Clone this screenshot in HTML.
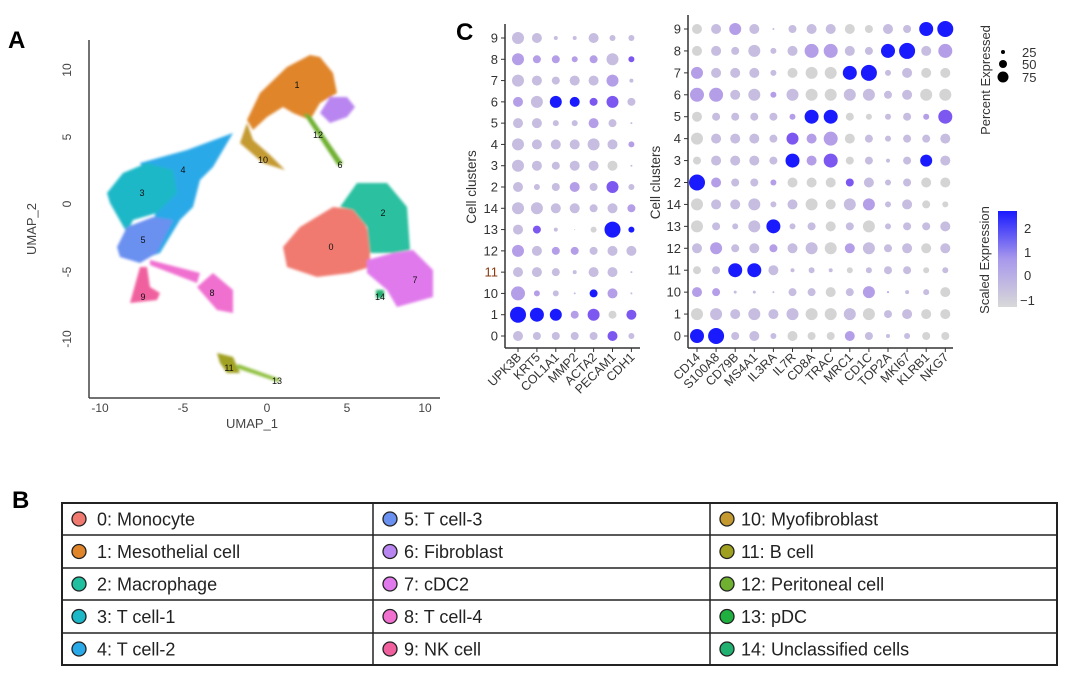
<!DOCTYPE html>
<html><head><meta charset="utf-8"><style>
body{margin:0;background:#fff;width:1080px;height:693px;overflow:hidden;font-family:"Liberation Sans",sans-serif}
svg{display:block}
text{font-family:"Liberation Sans",sans-serif}
</style></head><body>
<svg id="fig" width="1080" height="693" viewBox="0 0 1080 693">
<defs><filter id="rough"><feGaussianBlur stdDeviation="1.2"/></filter></defs>
<text x="8" y="48" font-size="24" font-weight="bold">A</text>
<text x="456" y="40" font-size="24" font-weight="bold">C</text>
<text x="12" y="508" font-size="24" font-weight="bold">B</text>
<g id="umap">
 <g filter="url(#rough)">
  <polygon fill="#e0852a" points="247,120 260,93 287,67 310,55 320,57 333,73 337,93 320,103 310,120 293,113 283,107 267,117 253,130"/>
  <polygon fill="#b985f0" points="330,97 347,97 355,107 347,117 330,123 320,113"/>
  <polygon fill="#6fb030" points="303,113 310,115 343,163 338,166"/>
  <polygon fill="#c49a30" points="247,123 240,143 263,163 285,170 270,155 253,140"/>
  <polygon fill="#2aa9e8" points="140,163 187,150 233,133 213,167 200,180 193,207 180,220 160,253 140,260 160,200"/>
  <polygon fill="#1cb8c8" points="107,193 123,173 147,163 173,170 177,193 157,213 133,220 127,233 110,203"/>
  <polygon fill="#6a90f0" points="117,247 127,227 153,217 173,220 157,253 140,263 120,257"/>
  <polygon fill="#f0609e" points="130,303 140,267 147,267 150,287 160,293 157,300"/>
  <polygon fill="#f070d0" points="150,260 200,273 197,283 150,265"/>
  <polygon fill="#f070d0" points="197,287 213,273 233,290 233,313 217,310"/>
  <polygon fill="#f07a70" points="283,247 300,227 333,207 360,210 370,237 370,267 350,273 317,277 287,267"/>
  <polygon fill="#2ac0a0" points="340,207 357,183 387,183 407,207 410,250 393,253 370,253 367,227 353,210"/>
  <polygon fill="#e07aec" points="367,260 393,253 413,250 433,270 433,297 397,307 387,290 367,273"/>
  <rect fill="#20b070" x="376" y="290" width="8" height="8"/>
  <polygon fill="#a0a020" points="217,353 233,357 240,373 227,373 220,363"/>
  <polygon fill="#90c040" points="238,364 280,379 278,382 236,368"/>
 </g>
 <g font-size="9" fill="#111" text-anchor="middle">
  <text x="297" y="88">1</text><text x="340" y="168">6</text><text x="263" y="163">10</text><text x="318" y="138">12</text>
  <text x="183" y="173">4</text><text x="142" y="196">3</text><text x="143" y="243">5</text><text x="143" y="300">9</text>
  <text x="212" y="296">8</text><text x="331" y="250">0</text><text x="383" y="216">2</text><text x="415" y="283">7</text>
  <text x="380" y="300">14</text><text x="229" y="371">11</text><text x="277" y="384">13</text>
 </g>
 <line x1="89" y1="40" x2="89" y2="398" stroke="#444" stroke-width="1.5"/>
 <line x1="89" y1="398" x2="440" y2="398" stroke="#444" stroke-width="1.5"/>
 <g font-size="12" fill="#444" text-anchor="middle">
  <text x="100" y="412">-10</text><text x="183" y="412">-5</text><text x="267" y="412">0</text><text x="347" y="412">5</text><text x="425" y="412">10</text>
  <text x="67" y="74" transform="rotate(-90 67 70)">10</text>
  <text x="67" y="141" transform="rotate(-90 67 137)">5</text>
  <text x="67" y="208" transform="rotate(-90 67 204)">0</text>
  <text x="67" y="276" transform="rotate(-90 67 272)">-5</text>
  <text x="67" y="343" transform="rotate(-90 67 339)">-10</text>
  <text x="252" y="428" font-size="13">UMAP_1</text>
  <text x="36" y="229" font-size="13" transform="rotate(-90 36 229)">UMAP_2</text>
 </g>
</g>
<g id="dotL"></g>
<g id="dotR"></g>
<g>
 <text x="990" y="80" font-size="13" fill="#333" text-anchor="middle" transform="rotate(-90 990 80)">Percent Expressed</text>
 <circle cx="1003" cy="52" r="2" fill="#000"/><circle cx="1003" cy="64" r="4" fill="#000"/><circle cx="1003" cy="77" r="5.5" fill="#000"/>
 <text x="1022" y="57" font-size="13" fill="#333">25</text><text x="1022" y="69" font-size="13" fill="#333">50</text><text x="1022" y="82" font-size="13" fill="#333">75</text>
</g>
<g>
 <defs><linearGradient id="cg" x1="0" y1="0" x2="0" y2="1"><stop offset="0" stop-color="#1a1aff"/><stop offset="0.5" stop-color="#a898ec"/><stop offset="1" stop-color="#d8d8d8"/></linearGradient></defs>
 <text x="989" y="260" font-size="13" fill="#333" text-anchor="middle" transform="rotate(-90 989 260)">Scaled Expression</text>
 <rect x="998" y="211" width="19" height="96" fill="url(#cg)"/>
 <g font-size="13" fill="#333"><text x="1024" y="233">2</text><text x="1024" y="257">1</text><text x="1024" y="280">0</text><text x="1020" y="305">−1</text></g>
</g>
<g id="table"></g>
</svg>
<script>
const rows = ["9","8","7","6","5","4","3","2","14","13","12","11","10","1","0"];
const genesL = ["UPK3B","KRT5","COL1A1","MMP2","ACTA2","PECAM1","CDH1"];
const genesR = ["CD14","S100A8","CD79B","MS4A1","IL3RA","IL7R","CD8A","TRAC","MRC1","CD1C","TOP2A","MKI67","KLRB1","NKG7"];
const sizeL = [[6,5,2,2,5,3,3],[6,4,4,3,4,6,3],[6,5,4,5,5,6,2],[5,6,6,5,4,6,4],[5,5,3,3,5,4,1],[6,5,5,5,6,5,3],[6,5,4,5,5,5,1],[5,3,4,5,4,6,3],[6,6,5,5,4,5,4],[5,4,2,0.5,3,8,3],[6,5,4,4,4,5,5],[5,5,4,2,5,5,1],[7,3,3,1,4,5,1],[8,7,6,4,6,4,5],[5,4,4,4,4,5,3]];
const exprL = [[1,1,1,1,1,1,1],[2,2,2,2,2,1,3],[1,1,1,1,1,2,1],[2,1,4,4,3,3,1],[1,1,1,1,2,1,1],[1,1,1,1,1,1,2],[1,1,1,1,1,0,1],[1,1,1,2,1,3,1],[1,1,1,1,1,1,2],[1,3,1,1,0,4,4],[2,1,2,2,1,1,1],[1,1,1,1,1,1,1],[2,2,1,1,4,2,1],[4,4,4,2,3,0,3],[1,1,1,1,1,3,1]];
const sizeR = [[5,5,6,5,1,4,5,5,5,4,5,4,7,8],[5,5,4,6,3,5,7,7,5,4,7,8,5,7],[6,5,5,5,3,5,6,6,7,8,3,5,5,5],[7,7,5,6,3,6,6,6,6,6,4,5,6,6],[5,4,4,4,4,3,7,7,4,3,3,4,3,7],[6,5,5,5,4,6,5,7,5,4,3,4,4,5],[4,5,5,5,4,7,5,7,4,4,2,4,6,5],[8,5,4,4,3,5,5,5,4,5,3,4,5,5],[6,5,5,6,3,5,6,5,6,6,3,5,4,3],[6,4,3,6,7,3,4,5,4,6,3,4,4,5],[5,6,4,5,4,5,6,6,5,6,4,5,5,5],[4,4,7,7,5,2,3,2,3,3,4,4,3,3],[5,4,1.5,1.5,1,4,4,5,4,6,1,2,3,5],[6,6,5,6,5,6,6,6,6,6,4,5,5,5],[7,8,4,5,3,5,4,4,5,4,2,3,4,4]];
const exprR = [[0,1,2,1,1,1,1,1,0,0,1,1,4,4],[0,1,1,1,1,1,2,2,1,1,4,4,1,2],[2,1,1,1,1,0,0,0,4,4,1,1,0,0],[2,2,1,1,2,1,0,0,1,1,1,1,0,0],[0,1,1,1,1,2,4,4,0,0,1,1,2,3],[0,1,1,1,1,3,2,2,0,1,1,1,1,1],[0,1,1,1,1,4,2,3,0,1,1,1,4,1],[4,2,1,1,2,0,0,0,3,1,1,1,0,0],[0,1,1,1,1,1,0,0,1,2,1,1,0,0],[0,1,1,1,4,1,1,0,1,0,1,1,1,1],[1,2,1,1,2,1,1,0,2,1,1,1,0,1],[0,1,4,4,1,1,1,1,0,1,1,1,0,1],[2,2,1,1,1,1,1,0,1,2,2,1,1,0],[0,1,1,1,1,1,0,0,1,0,1,1,0,0],[4,4,1,1,1,0,0,0,2,1,1,1,0,0]];
const palette=["#d4d4d4","#c6bde0","#b59ee8","#7c58f0","#1a1aff"];
const NS="http://www.w3.org/2000/svg";
function mk(tag,attrs,parent){const e=document.createElementNS(NS,tag);for(const k in attrs)e.setAttribute(k,attrs[k]);parent.appendChild(e);return e;}
function dotplot(g,genes,sizes,exprs,x0,dx,y0,y1,axisX,axisEnd,drawTitle,titleX){
  const dy=(y1-y0)/(rows.length-1);
  const xs=i=>x0+i*dx, ys=j=>y0+j*dy;
  mk("line",{x1:axisX,y1:y0-14,x2:axisX,y2:348,stroke:"#333","stroke-width":1.5},g);
  mk("line",{x1:axisX,y1:348,x2:axisEnd,y2:348,stroke:"#333","stroke-width":1.5},g);
  rows.forEach((r,j)=>{
    const t=mk("text",{x:axisX-7,y:ys(j)+4.5,"font-size":13,fill:(r==="11"&&genes===genesL)?"#8a3a10":"#333","text-anchor":"end"},g);t.textContent=r;
    
    
    mk("line",{x1:axisX-4,y1:ys(j),x2:axisX,y2:ys(j),stroke:"#333"},g);
    genes.forEach((gn,i)=>{
      const c=mk("circle",{cx:xs(i),cy:ys(j),r:sizes[j][i],fill:palette[exprs[j][i]]},g);
      
      
    });
  });
  genes.forEach((gn,i)=>{
    mk("line",{x1:xs(i),y1:348,x2:xs(i),y2:352,stroke:"#333"},g);
    const t=mk("text",{x:xs(i)+4,y:358,"font-size":12.5,fill:"#333","text-anchor":"end",transform:`rotate(-45 ${xs(i)+4} 358)`},g);t.textContent=gn;
    
    
  });
  const tt=mk("text",{x:titleX,y:(y0+y1)/2,"font-size":13.5,fill:"#333","text-anchor":"middle",transform:`rotate(-90 ${titleX} ${(y0+y1)/2})`},g);tt.textContent="Cell clusters";
  
  
}
dotplot(document.getElementById("dotL"),genesL,sizeL,exprL,518,18.9,38,336,505,640,true,476);
dotplot(document.getElementById("dotR"),genesR,sizeR,exprR,697,19.1,29,336,688,953,true,660);
// legend table
const legNames=["0: Monocyte","1: Mesothelial cell","2: Macrophage","3: T cell-1","4: T cell-2","5: T cell-3","6: Fibroblast","7: cDC2","8: T cell-4","9: NK cell","10: Myofibroblast","11: B cell","12: Peritoneal cell","13: pDC","14: Unclassified cells"];
const legColors=["#f07a70","#e0852a","#1fbfa0","#1cb8c8","#2aa9e8","#6a90f0","#b985f0","#e07aec","#f070d0","#f0609e","#c49a30","#a0a020","#6fb030","#20b040","#20b070"];
const tb=document.getElementById("table");
const colX=[62,373,710,1057], rowY=[503,535,568,600,633,665];
mk("rect",{x:62,y:503,width:995,height:162,fill:"none",stroke:"#222","stroke-width":2},tb);
[373,710].forEach(x=>mk("line",{x1:x,y1:503,x2:x,y2:665,stroke:"#222","stroke-width":1.5},tb));
rowY.slice(1,5).forEach(y=>mk("line",{x1:62,y1:y,x2:1057,y2:y,stroke:"#222","stroke-width":1.5},tb));
legNames.forEach((n,k)=>{
  const c=Math.floor(k/5), r=k%5, cy=(rowY[r]+rowY[r+1])/2;
  const cx=colX[c]+17;
  const ci=mk("circle",{cx:cx,cy:cy,r:7,fill:legColors[k],stroke:"#222","stroke-width":1.3},tb);
  
  
  const t=mk("text",{x:cx+(c===0?18:14),y:cy+6.5,"font-size":18,fill:"#222"},tb);t.textContent=n;
  
  
});
</script>
</body></html>
